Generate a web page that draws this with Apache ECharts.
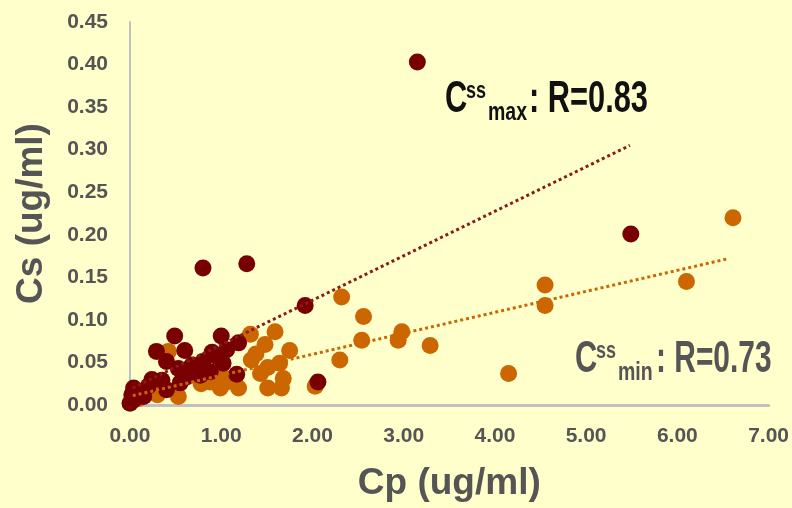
<!DOCTYPE html>
<html>
<head>
<meta charset="utf-8">
<script src="https://cdn.jsdelivr.net/npm/echarts@6/dist/echarts.min.js"></script>
<style>
html,body{margin:0;padding:0;background:#ffffcc;}
#c{width:792px;height:508px;}
</style>
</head>
<body>
<div id="c"></div>
<script>
// ---- data ----
var xTickLabels = ['0.00','1.00','2.00','3.00','4.00','5.00','6.00','7.00'];
var yTickLabels = ['0.00','0.05','0.10','0.15','0.20','0.25','0.30','0.35','0.40','0.45'];

// Css max (dark red)
var cssMax = [
  [3.15,0.403],[5.49,0.201],[0.80,0.161],[1.28,0.166],[1.92,0.117],[2.06,0.027],
  [0.49,0.081],[0.29,0.063],[0.60,0.064],[1.00,0.081],[0.40,0.051],[0.53,0.043],
  [0.68,0.047],[0.80,0.051],[0.95,0.057],[1.06,0.065],[1.19,0.073],[1.02,0.049],
  [1.17,0.036],[0.04,0.020],[0.04,0.006],[0.02,0.012],[0.15,0.010],[0.24,0.030],
  [0.35,0.029],[0.40,0.018],[0.55,0.026],[0.62,0.033],[0.77,0.035],[0.66,0.041],
  [0.88,0.039],[0.10,0.016],[0.00,0.002],[0.20,0.022],[0.90,0.062]
];
// Css min (orange)
var cssMin = [
  [6.61,0.220],[6.10,0.145],[4.55,0.141],[4.55,0.117],[4.15,0.037],[3.29,0.070],
  [2.98,0.086],[2.94,0.076],[2.56,0.104],[2.54,0.076],[2.32,0.127],[2.30,0.053],
  [2.03,0.022],[1.32,0.083],[1.59,0.086],[1.48,0.071],[1.75,0.064],[1.33,0.053],
  [1.51,0.044],[1.43,0.037],[1.68,0.031],[1.06,0.027],[1.19,0.020],[1.51,0.020],
  [1.66,0.020],[0.99,0.020],[0.88,0.027],[1.02,0.033],[0.53,0.010],[0.42,0.063],
  [0.78,0.025],[1.64,0.049],[1.38,0.060],[0.10,0.008],[0.30,0.012]
];
// linear trend lines (start, end)
var trendMaxX = [0.03, 5.48];
var trendMaxY = [0.020, 0.305];
var trendMinX = [0.03, 6.56];
var trendMinY = [0.011, 0.172];

function pairs(xs, ys){ return xs.map(function(x,i){ return [x, ys[i]]; }); }

var FONT = '"Liberation Sans",Arial,sans-serif';
var GRAY = '#555555';
var DARK = '#780000';
var ORANGE = '#cc6600';

function txt(x, y, s, size, fill, sx){
  return {type:'text', x:x, y:y, scaleX:sx, scaleY:1,
    style:{text:s, font:'bold '+size+'px '+FONT, fill:fill, verticalAlign:'middle', align:'left'}};
}

var chart = echarts.init(document.getElementById('c'), null, {renderer:'canvas'});
chart.setOption({
  backgroundColor: '#ffffcc',
  animation: false,
  grid: {left:130, top:22, right:23, bottom:103, containLabel:false},
  xAxis: {
    type:'value', min:0, max:7, interval:1,
    name:'Cp (ug/ml)', nameLocation:'middle', nameGap:60,
    nameTextStyle:{fontFamily:FONT, fontWeight:'bold', fontSize:37, color:GRAY},
    axisLine:{show:true, onZero:false, lineStyle:{color:'#c0c0c0', width:3}},
    axisTick:{show:false}, splitLine:{show:false},
    axisLabel:{fontFamily:FONT, fontWeight:'bold', fontSize:21, color:GRAY, margin:21,
      formatter:function(v){ return xTickLabels[Math.round(v)]; }}
  },
  yAxis: {
    type:'value', min:0, max:0.45, interval:0.05,
    name:'Cs (ug/ml)', nameLocation:'middle', nameGap:80, nameRotate:90,
    nameTextStyle:{fontFamily:FONT, fontWeight:'bold', fontSize:37, color:GRAY},
    axisLine:{show:true, onZero:false, lineStyle:{color:'#c0c0c0', width:2}},
    axisTick:{show:false}, splitLine:{show:false},
    axisLabel:{fontFamily:FONT, fontWeight:'bold', fontSize:21, color:GRAY, margin:22,
      formatter:function(v){ return yTickLabels[Math.round(v/0.05)]; }}
  },
  series: [
    {type:'scatter', data:cssMin, symbolSize:17, itemStyle:{color:ORANGE, opacity:1}, z:2},
    {type:'scatter', data:cssMax, symbolSize:17, itemStyle:{color:DARK, opacity:1}, z:3},
    {type:'line', data:pairs(trendMaxX,trendMaxY), showSymbol:false, symbol:'none', z:4,
      lineStyle:{color:'#8b1a1a', width:3, type:[3,3]}},
    {type:'line', data:pairs(trendMinX,trendMinY), showSymbol:false, symbol:'none', z:4,
      lineStyle:{color:ORANGE, width:3, type:[3,3]}}
  ],
  graphic: [
    txt(445, 100, 'C', 44, '#111', 0.7),
    txt(466, 91, 'ss', 24, '#111', 0.75),
    txt(488, 113, 'max', 26, '#111', 0.75),
    txt(529, 100, ': R=0.83', 44, '#111', 0.7),

    txt(575, 360, 'C', 44, GRAY, 0.7),
    txt(596, 351, 'ss', 24, GRAY, 0.75),
    txt(618, 373, 'min', 26, GRAY, 0.75),
    txt(656, 360, ': R=0.73', 44, GRAY, 0.68)
  ]
});
</script>
</body>
</html>
